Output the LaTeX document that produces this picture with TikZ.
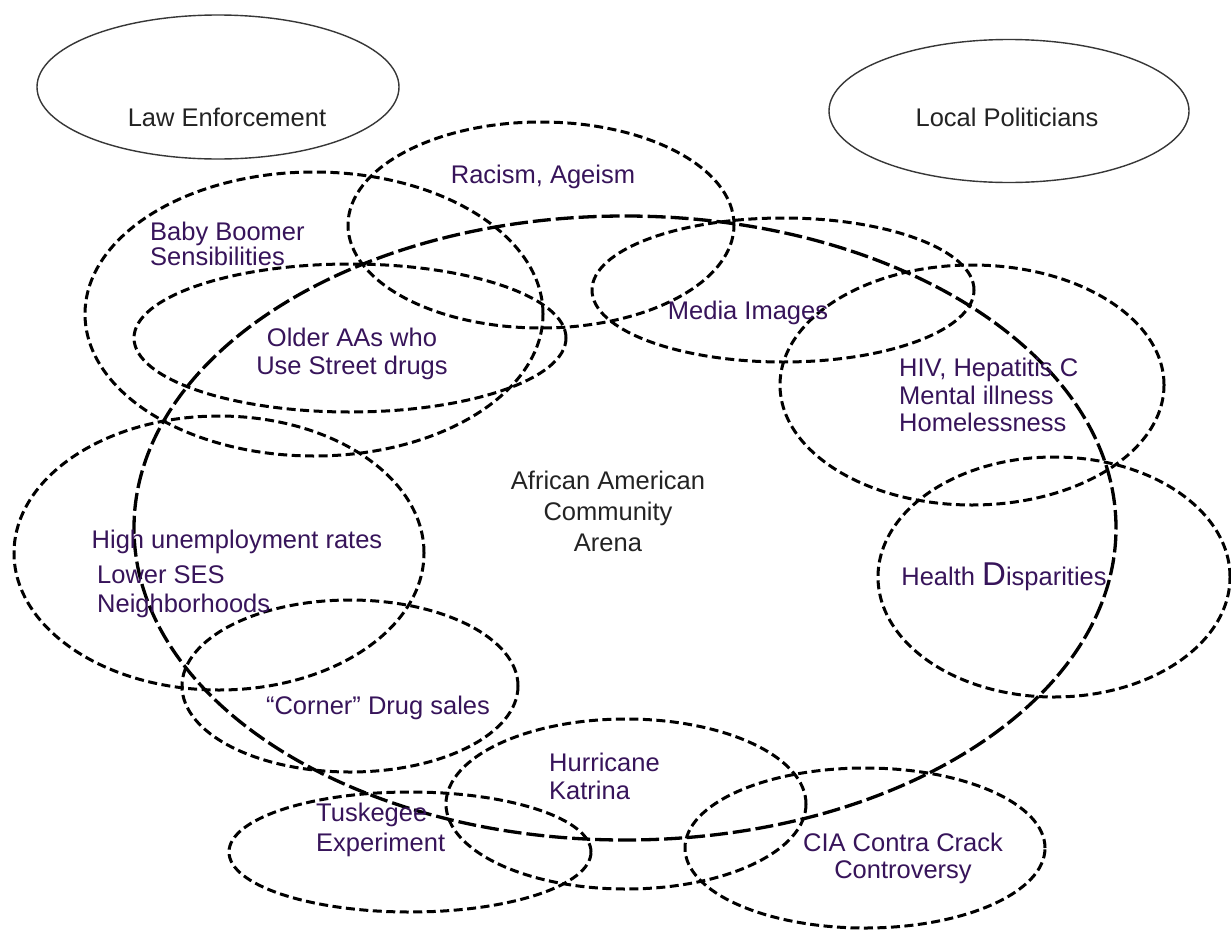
\documentclass[tikz,border=0pt]{standalone}
\usepackage{fontspec}
\setmainfont{Liberation Sans}
\usetikzlibrary{shapes.geometric}
\definecolor{lblpurple}{RGB}{55,20,90}
\definecolor{lbldark}{RGB}{35,35,35}
\definecolor{solidgray}{RGB}{55,55,55}
\tikzset{
  ell/.style={ellipse, inner sep=0pt, outer sep=0pt},
  solidell/.style={ell, draw=solidgray, line width=1.4pt},
  dashell/.style={ell, draw=black, line width=3pt, dash pattern=on 9pt off 4.5pt},
  arenaell/.style={ell, draw=black, line width=3.3pt, dash pattern=on 18pt off 5pt},
  lbl/.style={font=\fontsize{25.5}{28}\selectfont, text=lblpurple, inner sep=0pt},
  dlbl/.style={lbl, text=lbldark},
}
\begin{document}
\begin{tikzpicture}[x=1pt,y=-1pt]
\useasboundingbox[fill=white] (0,0) rectangle (1231,932);
% solid ellipses
\node[solidell, minimum width=362pt, minimum height=144pt] (law) at (218,87) {};
\node[solidell, minimum width=360pt, minimum height=143pt] (pol) at (1009,111) {};
% dashed ellipses
\node[dashell, minimum width=386pt, minimum height=206pt] (rac) at (541,225) {};
\node[dashell, minimum width=458pt, minimum height=284pt] (bb) at (314,314) {};
\node[dashell, minimum width=432pt, minimum height=148pt] (old) at (350,338) {};
\node[dashell, minimum width=382pt, minimum height=144pt] (med) at (783,290) {};
\node[dashell, minimum width=384pt, minimum height=240pt] (hiv) at (972,385) {};
\node[dashell, minimum width=352pt, minimum height=240pt] (hd) at (1054,577) {};
\node[dashell, minimum width=410pt, minimum height=274pt] (hu) at (219,553) {};
\node[dashell, minimum width=336pt, minimum height=172pt] (cor) at (350,686) {};
\node[dashell, minimum width=360pt, minimum height=170pt] (hur) at (626,804) {};
\node[dashell, minimum width=362pt, minimum height=120pt] (tus) at (410,852) {};
\node[dashell, minimum width=360pt, minimum height=160pt] (cia) at (865,848) {};
% arena
\node[arenaell, minimum width=982pt, minimum height=624pt] (arena) at (625,528) {};
% labels
\node[dlbl] (lawt) at (227,117) {Law Enforcement};
\node[dlbl] (polt) at (1007,117) {Local Politicians};
\node[lbl] (ract) at (543,177) {Racism, Ageism};
\node[lbl, align=left, anchor=west, font=\fontsize{25.5}{25}\selectfont] (bbt) at (150,244) {Baby Boomer\\Sensibilities};
\node[lbl, align=center] (oldt) at (352,354) {Older AAs who\\Use Street drugs};
\node[lbl] (medt) at (748,313) {Media Images};
\node[lbl, align=left, anchor=west, font=\fontsize{25.5}{27.5}\selectfont] (hivt) at (899,395) {HIV, Hepatitis C\\Mental illness\\Homelessness};
\node[lbl] (hdt) at (1004,577) {Health {\fontsize{33}{33}\selectfont D}isparities};
\node[dlbl, align=center, font=\fontsize{25.5}{31}\selectfont] (arenat) at (608,511) {African American\\Community\\Arena};
\node[lbl] (hut) at (237,542) {High unemployment rates};
\node[lbl, align=left, anchor=west, font=\fontsize{25.5}{29}\selectfont] (sest) at (97,592) {Lower SES\\Neighborhoods};
\node[lbl] (cort) at (378,708) {“Corner” Drug sales};
\node[lbl, align=left, anchor=west] (hurt) at (549,776) {Hurricane\\Katrina};
\node[lbl, align=left, anchor=west, font=\fontsize{25.5}{30}\selectfont] (tust) at (316,830) {Tuskegee\\Experiment};
\node[lbl, align=center, font=\fontsize{25.5}{27}\selectfont] (ciat) at (903,858) {CIA Contra Crack\\Controversy};
\end{tikzpicture}
\end{document}
